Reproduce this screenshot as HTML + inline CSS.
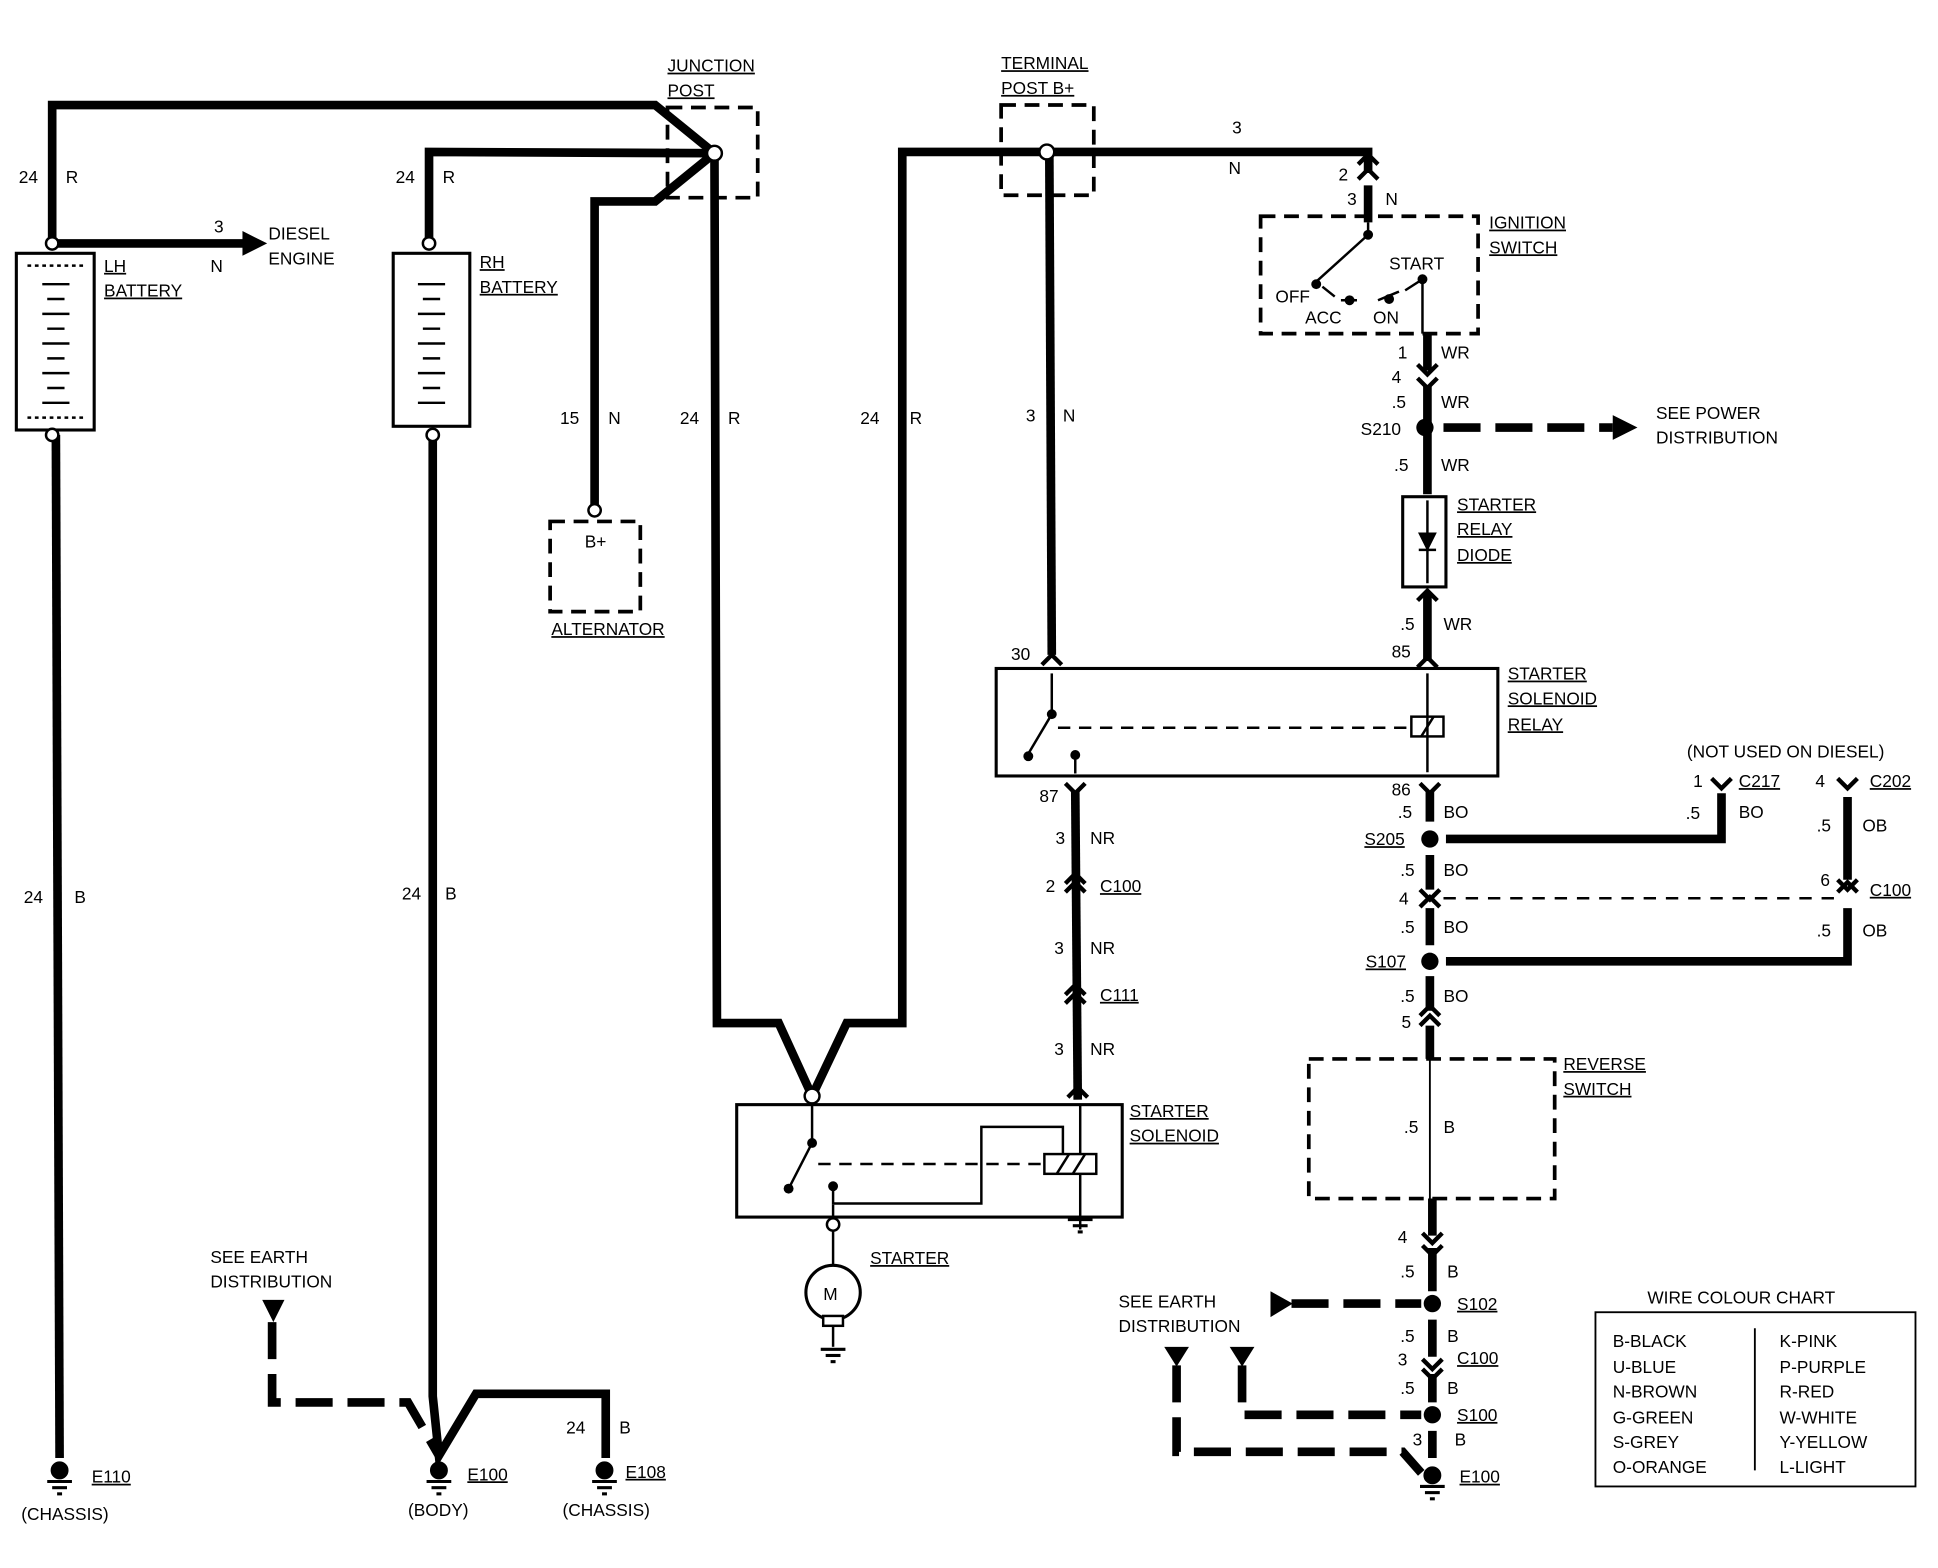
<!DOCTYPE html>
<html><head><meta charset="utf-8"><style>html,body{margin:0;padding:0;background:#fff}svg{display:block}</style></head><body>
<svg width="1938" height="1568" viewBox="0 0 1568 1269" xmlns="http://www.w3.org/2000/svg" font-family="Liberation Sans, sans-serif" font-size="14" fill="#000">
<defs>
<marker id="ah" markerWidth="4" markerHeight="4" refX="2" refY="2" orient="auto" markerUnits="strokeWidth"><path d="M0,0.5 L3.5,2 L0,3.5z"/></marker>
</defs>
<g fill="none" stroke="#000" stroke-width="7" stroke-linejoin="miter">
<!-- top wires -->
<polyline points="42,197 42,85 530,85 578,124"/>
<polyline points="347,197 347,123 578,124"/>
<polyline points="481,410 481,163 530,163 578,124"/>
<polyline points="578,124 580,828 630,828 657,887 685,828 730,828 730,123 847,123 1107,123 1107,140"/>
<line x1="849" y1="123" x2="851" y2="530"/>
<line x1="42" y1="197" x2="198" y2="197"/>
<!-- battery down wires -->
<line x1="45" y1="352" x2="48" y2="1180"/>
<polyline points="350,352 350,1130 355,1178 385,1128 490,1128 490,1180"/>
<!-- starter relay to solenoid -->
<line x1="870" y1="640" x2="872" y2="890"/>
<!-- right column -->
<line x1="1107" y1="150" x2="1107" y2="180"/>
<line x1="1155" y1="270" x2="1155" y2="300"/>
<line x1="1155" y1="312" x2="1155" y2="400"/>
<line x1="1155" y1="480" x2="1155" y2="535"/>
<line x1="1157" y1="640" x2="1157" y2="665"/>
<line x1="1157" y1="692" x2="1157" y2="720"/>
<line x1="1157" y1="735" x2="1157" y2="765"/>
<line x1="1157" y1="790" x2="1157" y2="818"/>
<line x1="1157" y1="830" x2="1157" y2="857"/>
<line x1="1159" y1="970" x2="1159" y2="1000"/>
<line x1="1159" y1="1010" x2="1159" y2="1045"/>
<line x1="1159" y1="1068" x2="1159" y2="1098"/>
<line x1="1159" y1="1112" x2="1159" y2="1135"/>
<line x1="1159" y1="1158" x2="1159" y2="1180"/>
<polyline points="1170,679 1393,679 1393,642"/>
<polyline points="1170,778 1495,778 1495,735"/>
<line x1="1495" y1="645" x2="1495" y2="712"/>
</g>
<!-- dashed thick wires -->
<g fill="none" stroke="#000" stroke-width="7" stroke-dasharray="30,12">
<line x1="1168" y1="346" x2="1305" y2="346"/>
<polyline points="220,1070 220,1135 330,1135 355,1178"/>
<line x1="1045" y1="1055" x2="1150" y2="1055"/>
<polyline points="1005,1105 1005,1145 1150,1145"/>
<polyline points="952,1105 952,1175 1135,1175 1150,1192"/>
</g>
<g fill="#000">
<polygon points="1305,336 1325,346 1305,356"/>
<polygon points="196,187 216,197 196,207"/>
<polygon points="212,1052 230,1052 221,1070"/>
<polygon points="942,1090 962,1090 952,1106"/>
<polygon points="995,1090 1015,1090 1005,1106"/>
<polygon points="1028,1045 1046,1055 1028,1066"/>
<circle cx="1153" cy="346" r="7"/><circle cx="1157" cy="679" r="7"/><circle cx="1157" cy="778" r="7"/>
<circle cx="1159" cy="1055" r="7"/><circle cx="1159" cy="1145" r="7"/>
</g>
<!-- thin dashed -->
<g fill="none" stroke="#000" stroke-width="2" stroke-dasharray="10,8">
<line x1="1168" y1="727" x2="1488" y2="727"/>
</g>
<!-- dashed boxes -->
<g fill="none" stroke="#000" stroke-width="3" stroke-dasharray="12,7">
<rect x="540" y="87" width="73" height="73"/>
<rect x="810" y="85" width="75" height="73"/>
<rect x="445" y="422" width="73" height="73"/>
<rect x="1020" y="175" width="176" height="95"/>
<rect x="1059" y="857" width="199" height="113"/>
</g>
<!-- solid boxes -->
<g fill="none" stroke="#000" stroke-width="2.5">
<rect x="13" y="205" width="63" height="143"/>
<rect x="318" y="205" width="62" height="140"/>
<rect x="806" y="541" width="406" height="87"/>
<rect x="596" y="894" width="312" height="91"/>
<rect x="1135" y="402" width="35" height="73"/>
<rect x="1291" y="1062" width="259" height="141" stroke-width="1.5"/>
<line x1="1420" y1="1075" x2="1420" y2="1190" stroke-width="1.5"/>
<circle cx="674" cy="1046" r="22"/>
</g>
<!-- battery plates -->
<g stroke="#000" stroke-width="2">
<line x1="22" y1="215" x2="70" y2="215" stroke-dasharray="3,3"/>
<line x1="22" y1="338" x2="70" y2="338" stroke-dasharray="3,3"/>
<line x1="34" y1="230" x2="56" y2="230"/><line x1="38" y1="242" x2="52" y2="242"/><line x1="34" y1="254" x2="56" y2="254"/><line x1="38" y1="266" x2="52" y2="266"/><line x1="34" y1="278" x2="56" y2="278"/><line x1="38" y1="290" x2="52" y2="290"/><line x1="34" y1="302" x2="56" y2="302"/><line x1="38" y1="314" x2="52" y2="314"/><line x1="34" y1="326" x2="56" y2="326"/>
<line x1="338" y1="230" x2="360" y2="230"/><line x1="342" y1="242" x2="356" y2="242"/><line x1="338" y1="254" x2="360" y2="254"/><line x1="342" y1="266" x2="356" y2="266"/><line x1="338" y1="278" x2="360" y2="278"/><line x1="342" y1="290" x2="356" y2="290"/><line x1="338" y1="302" x2="360" y2="302"/><line x1="342" y1="314" x2="356" y2="314"/><line x1="338" y1="326" x2="360" y2="326"/>
</g>
<g fill="#fff" stroke="#000" stroke-width="2">
<circle cx="42" cy="197" r="5"/><circle cx="42" cy="352" r="5"/>
<circle cx="347" cy="197" r="5"/><circle cx="350" cy="352" r="5"/>
<circle cx="578" cy="124" r="6"/><circle cx="847" cy="123" r="6"/>
<circle cx="481" cy="413" r="5"/><circle cx="657" cy="887" r="6"/>
<circle cx="674" cy="991" r="5"/>
</g>
<!-- internal relay/solenoid/switch thin lines -->
<g fill="none" stroke="#000" stroke-width="2">
<line x1="851" y1="545" x2="851" y2="578"/><line x1="851" y1="578" x2="832" y2="610"/>
<line x1="1155" y1="545" x2="1155" y2="625"/>
<rect x="1142" y="580" width="26" height="16"/><line x1="1150" y1="596" x2="1160" y2="580"/>
<line x1="856" y1="589" x2="1142" y2="589" stroke-dasharray="10,7"/>
<line x1="870" y1="613" x2="870" y2="626"/>
<line x1="657" y1="893" x2="657" y2="925"/><line x1="657" y1="925" x2="638" y2="962"/>
<line x1="662" y1="942" x2="843" y2="942" stroke-dasharray="10,7"/>
<rect x="845" y="934" width="42" height="16"/><line x1="855" y1="950" x2="865" y2="934"/><line x1="868" y1="950" x2="878" y2="934"/>
<polyline points="674,960 674,974 794,974 794,912 860,912 860,934"/>
<line x1="874" y1="895" x2="874" y2="934"/><line x1="874" y1="950" x2="874" y2="985"/>
<line x1="674" y1="975" x2="674" y2="986"/><line x1="674" y1="996" x2="674" y2="1024"/><line x1="674" y1="1068" x2="674" y2="1090"/>
<line x1="874" y1="985" x2="874" y2="995"/>
<line x1="1107" y1="180" x2="1107" y2="190"/><line x1="1107" y1="190" x2="1065" y2="228"/>
<line x1="1151" y1="226" x2="1151" y2="270"/>
<line x1="1070" y1="232" x2="1080" y2="240"/><line x1="1085" y1="243" x2="1098" y2="243"/><line x1="1115" y1="243" x2="1132" y2="236"/><line x1="1137" y1="235" x2="1151" y2="226"/>
<line x1="1155" y1="405" x2="1155" y2="472"/><polygon points="1149,432 1161,432 1155,444" fill="#000"/><line x1="1148" y1="445" x2="1162" y2="445"/>
<line x1="1157" y1="970" x2="1157" y2="857" stroke-width="1.5"/>
</g>
<g fill="#000">
<circle cx="851" cy="578" r="4"/><circle cx="832" cy="612" r="4"/><circle cx="870" cy="611" r="4"/>
<circle cx="657" cy="925" r="4"/><circle cx="638" cy="962" r="4"/><circle cx="674" cy="960" r="4"/>
<circle cx="1107" cy="190" r="4"/><circle cx="1065" cy="230" r="4"/><circle cx="1151" cy="226" r="4"/><circle cx="1092" cy="243" r="4"/><circle cx="1124" cy="242" r="4"/>
</g>
<!-- connector chevrons -->
<g fill="none" stroke="#000" stroke-width="3.5">
<path d="M1099,145 L1107,137 L1115,145"/><path d="M1099,133 L1107,125 L1115,133"/>
<path d="M1147,295 L1155,303 L1163,295"/><path d="M1147,306 L1155,314 L1163,306"/>
<path d="M843,538 L851,530 L859,538"/><path d="M1147,486 L1155,478 L1163,486"/><path d="M1147,540 L1155,532 L1163,540"/>
<path d="M862,634 L870,642 L878,634"/><path d="M1149,634 L1157,642 L1165,634"/>
<path d="M862,715 L870,707 L878,715"/><path d="M862,722 L870,714 L878,722"/>
<path d="M862,805 L870,797 L878,805"/><path d="M862,812 L870,804 L878,812"/>
<path d="M864,888 L872,880 L880,888"/>
<path d="M1149,720 L1157,728 L1165,720"/><path d="M1149,734 L1157,726 L1165,734"/>
<path d="M1149,822 L1157,814 L1165,822"/><path d="M1149,830 L1157,822 L1165,830"/>
<path d="M1151,998 L1159,1006 L1167,998"/><path d="M1151,1008 L1159,1016 L1167,1008"/>
<path d="M1151,1100 L1159,1108 L1167,1100"/><path d="M1151,1108 L1159,1116 L1167,1108"/>
<path d="M1385,630 L1393,638 L1401,630"/><path d="M1487,630 L1495,638 L1503,630"/>
<path d="M1487,712 L1495,720 L1503,712"/><path d="M1487,722 L1495,714 L1503,722"/>
</g>
<!-- grounds -->
<g stroke="#000" stroke-width="2.5">
<g transform="translate(48,1190)"><circle r="6"/><line x1="-10" y1="9" x2="10" y2="9"/><line x1="-6" y1="14" x2="6" y2="14"/><line x1="-2" y1="19" x2="2" y2="19"/></g>
<g transform="translate(355,1190)"><circle r="6"/><line x1="-10" y1="9" x2="10" y2="9"/><line x1="-6" y1="14" x2="6" y2="14"/><line x1="-2" y1="19" x2="2" y2="19"/></g>
<g transform="translate(489,1190)"><circle r="6"/><line x1="-10" y1="9" x2="10" y2="9"/><line x1="-6" y1="14" x2="6" y2="14"/><line x1="-2" y1="19" x2="2" y2="19"/></g>
<g transform="translate(1159,1194)"><circle r="6"/><line x1="-10" y1="9" x2="10" y2="9"/><line x1="-6" y1="14" x2="6" y2="14"/><line x1="-2" y1="19" x2="2" y2="19"/></g>
<g transform="translate(874,987)"><line x1="-10" y1="0" x2="10" y2="0"/><line x1="-6" y1="5" x2="6" y2="5"/><line x1="-2" y1="10" x2="2" y2="10"/></g>
<g transform="translate(674,1092)"><line x1="-10" y1="0" x2="10" y2="0"/><line x1="-6" y1="5" x2="6" y2="5"/><line x1="-2" y1="10" x2="2" y2="10"/></g>
</g>
<rect x="666" y="1065" width="16" height="8" fill="#fff" stroke="#000" stroke-width="2"/>
<!-- labels -->
<g font-size="14">
<text x="15" y="148">24</text><text x="53" y="148">R</text>
<text x="320" y="148">24</text><text x="358" y="148">R</text>
<text x="173" y="188">3</text><text x="170" y="220">N</text>
<text x="217" y="194">DIESEL</text><text x="217" y="214">ENGINE</text>
<text x="84" y="220" text-decoration="underline">LH</text><text x="84" y="240" text-decoration="underline">BATTERY</text>
<text x="388" y="217" text-decoration="underline">RH</text><text x="388" y="237" text-decoration="underline">BATTERY</text>
<text x="540" y="58" text-decoration="underline">JUNCTION</text><text x="540" y="78" text-decoration="underline">POST</text>
<text x="810" y="56" text-decoration="underline">TERMINAL</text><text x="810" y="76" text-decoration="underline">POST B+</text>
<text x="997" y="108">3</text><text x="994" y="141">N</text>
<text x="1083" y="146">2</text><text x="1090" y="166">3</text><text x="1121" y="166">N</text>
<text x="1205" y="185" text-decoration="underline">IGNITION</text><text x="1205" y="205" text-decoration="underline">SWITCH</text>
<text x="1124" y="218">START</text><text x="1032" y="245">OFF</text><text x="1056" y="262">ACC</text><text x="1111" y="262">ON</text>
<text x="1131" y="290">1</text><text x="1166" y="290">WR</text>
<text x="1126" y="310">4</text><text x="1126" y="330">.5</text><text x="1166" y="330">WR</text>
<text x="1101" y="352">S210</text>
<text x="1340" y="339">SEE POWER</text><text x="1340" y="359">DISTRIBUTION</text>
<text x="1128" y="381">.5</text><text x="1166" y="381">WR</text>
<text x="1179" y="413" text-decoration="underline">STARTER</text><text x="1179" y="433" text-decoration="underline">RELAY</text><text x="1179" y="454" text-decoration="underline">DIODE</text>
<text x="1133" y="510">.5</text><text x="1168" y="510">WR</text>
<text x="1126" y="532">85</text><text x="818" y="534">30</text>
<text x="1220" y="550" text-decoration="underline">STARTER</text><text x="1220" y="570" text-decoration="underline">SOLENOID</text><text x="1220" y="591" text-decoration="underline">RELAY</text>
<text x="1365" y="613">(NOT USED ON DIESEL)</text>
<text x="1370" y="637">1</text><text x="1407" y="637" text-decoration="underline">C217</text>
<text x="1469" y="637">4</text><text x="1513" y="637" text-decoration="underline">C202</text>
<text x="1364" y="663">.5</text><text x="1407" y="662">BO</text>
<text x="1470" y="673">.5</text><text x="1507" y="673">OB</text>
<text x="841" y="649">87</text><text x="1126" y="644">86</text>
<text x="1131" y="662">.5</text><text x="1168" y="662">BO</text>
<text x="1104" y="684" text-decoration="underline">S205</text>
<text x="1133" y="709">.5</text><text x="1168" y="709">BO</text>
<text x="1132" y="732">4</text><text x="1473" y="717">6</text><text x="1513" y="725" text-decoration="underline">C100</text>
<text x="1133" y="755">.5</text><text x="1168" y="755">BO</text>
<text x="1470" y="758">.5</text><text x="1507" y="758">OB</text>
<text x="1105" y="783" text-decoration="underline">S107</text>
<text x="1133" y="811">.5</text><text x="1168" y="811">BO</text>
<text x="1134" y="832">5</text>
<text x="1265" y="866" text-decoration="underline">REVERSE</text><text x="1265" y="886" text-decoration="underline">SWITCH</text>
<text x="1136" y="917">.5</text><text x="1168" y="917">B</text>
<text x="854" y="683">3</text><text x="882" y="683">NR</text>
<text x="846" y="722">2</text><text x="890" y="722" text-decoration="underline">C100</text>
<text x="853" y="772">3</text><text x="882" y="772">NR</text>
<text x="890" y="810" text-decoration="underline">C111</text>
<text x="853" y="854">3</text><text x="882" y="854">NR</text>
<text x="914" y="904" text-decoration="underline">STARTER</text><text x="914" y="924" text-decoration="underline">SOLENOID</text>
<text x="704" y="1023" text-decoration="underline">STARTER</text>
<text x="666" y="1052">M</text>
<text x="453" y="343">15</text><text x="492" y="343">N</text>
<text x="550" y="343">24</text><text x="589" y="343">R</text>
<text x="696" y="343">24</text><text x="736" y="343">R</text>
<text x="830" y="341">3</text><text x="860" y="341">N</text>
<text x="473" y="443">B+</text>
<text x="446" y="514" text-decoration="underline">ALTERNATOR</text>
<text x="19" y="731">24</text><text x="60" y="731">B</text>
<text x="325" y="728">24</text><text x="360" y="728">B</text>
<text x="170" y="1022">SEE EARTH</text><text x="170" y="1042">DISTRIBUTION</text>
<text x="905" y="1058">SEE EARTH</text><text x="905" y="1078">DISTRIBUTION</text>
<text x="458" y="1160">24</text><text x="501" y="1160">B</text>
<text x="74" y="1200" text-decoration="underline">E110</text><text x="17" y="1230">(CHASSIS)</text>
<text x="378" y="1198" text-decoration="underline">E100</text><text x="330" y="1227">(BODY)</text>
<text x="506" y="1196" text-decoration="underline">E108</text><text x="455" y="1227">(CHASSIS)</text>
<text x="1131" y="1006">4</text><text x="1133" y="1034">.5</text><text x="1171" y="1034">B</text>
<text x="1179" y="1060" text-decoration="underline">S102</text>
<text x="1133" y="1086">.5</text><text x="1171" y="1086">B</text>
<text x="1131" y="1105">3</text><text x="1179" y="1104" text-decoration="underline">C100</text>
<text x="1133" y="1128">.5</text><text x="1171" y="1128">B</text>
<text x="1179" y="1150" text-decoration="underline">S100</text>
<text x="1143" y="1170">3</text><text x="1177" y="1170">B</text>
<text x="1181" y="1200" text-decoration="underline">E100</text>
<text x="1333" y="1055">WIRE COLOUR CHART</text>
<text x="1305" y="1090">B-BLACK</text><text x="1305" y="1111">U-BLUE</text><text x="1305" y="1131">N-BROWN</text><text x="1305" y="1152">G-GREEN</text><text x="1305" y="1172">S-GREY</text><text x="1305" y="1192">O-ORANGE</text>
<text x="1440" y="1090">K-PINK</text><text x="1440" y="1111">P-PURPLE</text><text x="1440" y="1131">R-RED</text><text x="1440" y="1152">W-WHITE</text><text x="1440" y="1172">Y-YELLOW</text><text x="1440" y="1192">L-LIGHT</text>
</g>
</svg>
</body></html>
